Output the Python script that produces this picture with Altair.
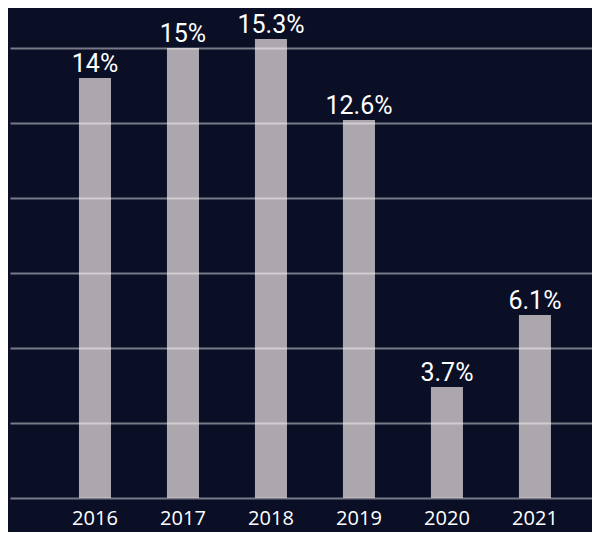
import altair as alt
import pandas as pd

years = ["2016", "2017", "2018", "2019", "2020", "2021"]
values = [14, 15, 15.3, 12.6, 3.7, 6.1]
labels = ["14%", "15%", "15.3%", "12.6%", "3.7%", "6.1%"]
grid_values = [0, 2.5, 5, 7.5, 10, 12.5, 15]

df = pd.DataFrame({"year": years, "value": values, "label": labels})

x = alt.X(
    "year:N",
    sort=years,
    title=None,
    scale=alt.Scale(paddingInner=0.636, paddingOuter=0.625, align=0.627),
    axis=alt.Axis(
        labelAngle=0,
        labelColor="#ffffff",
        labelFont="Open Sans",
        labelFontSize=20,
        labelPadding=10,
        domain=False,
        ticks=False,
        grid=False,
    ),
)
y = alt.Y(
    "value:Q",
    title=None,
    scale=alt.Scale(domain=[0, 16], nice=False),
    axis=alt.Axis(
        values=grid_values,
        labels=False,
        ticks=False,
        domain=False,
        grid=True,
        gridColor="#ffffff",
        gridOpacity=0.45,
        gridWidth=2,
        zindex=1,
    ),
)

base = alt.Chart(df)
bars = base.mark_bar(color="#aca6ad").encode(x=x, y=y)
text = base.mark_text(
    baseline="alphabetic", dy=-6, font="Roboto", fontSize=25, color="#ffffff"
).encode(x=alt.X("year:N", sort=years), y="value:Q", text="label:N")

chart = (
    alt.layer(bars, text)
    .properties(
        width=582,
        height=480,
        background="#0a0f26",
        autosize=alt.AutoSizeParams(type="none"),
        padding={"left": 2, "top": 10, "right": 0, "bottom": 34},
    )
    .configure_view(stroke=None)
)

chart.save("out.html", embed_options={"renderer": "svg", "actions": False})
